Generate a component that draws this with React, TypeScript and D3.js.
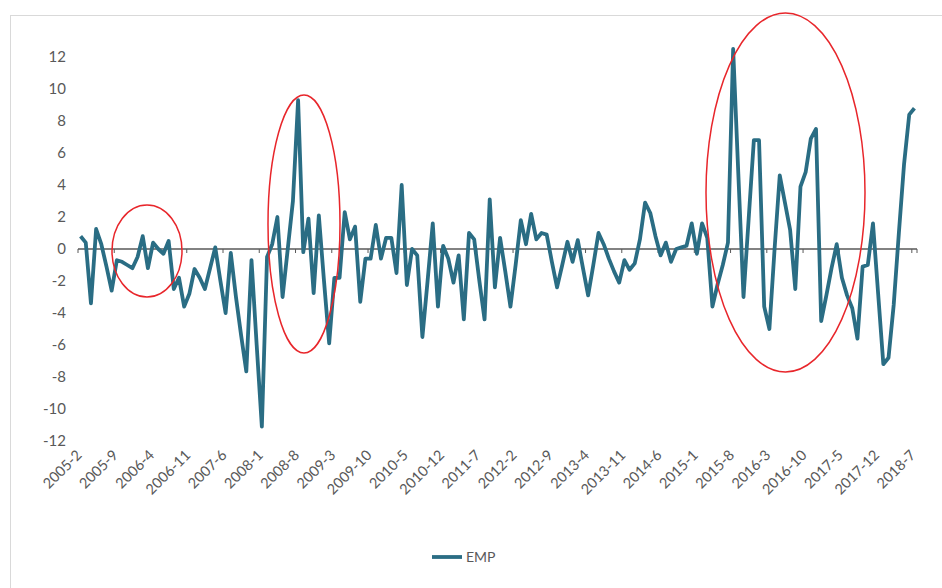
import React from "react";
import * as d3 from "d3";

const startYear = 2005;
const startMonth = 2;
const empValues: number[] = [
  0.8, 0.4, -3.4, 1.25, 0.3, -1.1, -2.6, -0.7, -0.8, -1.0,
  -1.2, -0.5, 0.8, -1.2, 0.4, 0.0, -0.3, 0.5, -2.5, -1.8,
  -3.6, -2.8, -1.25, -1.8, -2.5, -1.2, 0.1, -2.0, -4.0, -0.25,
  -3.0, -5.4, -7.65, -0.7, -6.0, -11.1, -0.5, 0.3, 2.0, -3.0,
  0.0, 3.0, 9.3, -0.2, 1.9, -2.75, 2.1, -2.0, -5.9, -1.8,
  -1.8, 2.3, 0.6, 1.4, -3.3, -0.6, -0.6, 1.5, -0.6, 0.7,
  0.7, -1.5, 4.0, -2.25, 0.0, -0.4, -5.5, -2.0, 1.6, -3.6,
  0.2, -0.6, -2.1, -0.4, -4.4, 1.0, 0.6, -2.0, -4.4, 3.1,
  -2.4, 0.7, -1.4, -3.6, -1.0, 1.8, 0.3, 2.2, 0.6, 1.0,
  0.9, -0.8, -2.4, -1.0, 0.45, -0.8, 0.55, -1.2, -2.9, -1.0,
  1.0, 0.3, -0.6, -1.4, -2.1, -0.7, -1.3, -0.9, 0.6, 2.9,
  2.25, 0.8, -0.4, 0.4, -0.8, 0.0, 0.1, 0.2, 1.6, -0.3,
  1.6, 0.7, -3.6, -2.2, -1.0, 0.4, 12.5, 4.7, -3.0, 1.9,
  6.8, 6.8, -3.6, -5.0, 0.0, 4.6, 2.9, 1.2, -2.5, 3.9,
  4.8, 6.9, 7.5, -4.5, -2.9, -1.2, 0.3, -1.8, -2.9, -3.7,
  -5.6, -1.1, -1.0, 1.6, -2.8, -7.2, -6.8, -3.5, 1.0, 5.3,
  8.4, 8.8,
];
const categories: string[] = empValues.map((_, i) => {
  const m = startMonth - 1 + i;
  return `${startYear + Math.floor(m / 12)}-${(m % 12) + 1}`;
});
const yTicks: number[] = [12, 10, 8, 6, 4, 2, 0, -2, -4, -6, -8, -10, -12];
const labelInterval = 7;
const seriesName = "EMP";

export default function App() {
  const W = 942, H = 588;
  const x = d3.scaleBand<number>().domain(empValues.map((_, i) => i)).range([78, 917]).padding(0);
  const bw = x.bandwidth();
  const cx = (i: number) => (x(i) as number) + bw / 2;
  const y = d3.scaleLinear().domain([-12, 12]).range([441, 57]);
  const line = d3.line<number>().x((_, i) => cx(i)).y((d) => y(d));
  const labelIdx = categories.map((_, i) => i).filter((i) => i % labelInterval === 0);
  const font = "Lato, 'Open Sans', sans-serif";
  const textColor = "#595959";
  const y0 = y(0);
  return (
    <svg width={W} height={H} style={{ position: "absolute", left: 0, top: 0, background: "#fff" }}>
      <rect x={10.5} y={15.5} width={940} height={590} fill="#fff" stroke="#d9d9d9" strokeWidth={1} />
      {yTicks.map((t) => (
        <text key={t} x={66} y={y(t)} dy="0.35em" textAnchor="end" fontSize={15} fill={textColor} fontFamily={font}>
          {t}
        </text>
      ))}
      <line x1={78} x2={917} y1={y0} y2={y0} stroke="#595959" strokeWidth={1.5} />
      {labelIdx.map((i) => (
        <line key={"t" + i} x1={x(i) as number} x2={x(i) as number} y1={y0} y2={y0 + 4} stroke="#595959" strokeWidth={1} />
      ))}
      <line x1={917} x2={917} y1={y0} y2={y0 + 4} stroke="#595959" strokeWidth={1} />
      {labelIdx.map((i) => (
        <text
          key={"l" + i}
          transform={`translate(${cx(i) + 2},${456}) rotate(-45)`}
          textAnchor="end"
          fontSize={14.5}
          fill={textColor}
          fontFamily={font}
        >
          {categories[i]}
        </text>
      ))}
      <path d={line(empValues) || ""} fill="none" stroke="#2a6d84" strokeWidth={3.8} strokeLinejoin="round" />
      <ellipse cx={147} cy={251} rx={35} ry={46} fill="none" stroke="#e8262b" strokeWidth={1.5} />
      <ellipse cx={304} cy={224} rx={36} ry={129} fill="none" stroke="#e8262b" strokeWidth={1.5} />
      <ellipse cx={785.5} cy={192.5} rx={79.5} ry={179.5} fill="none" stroke="#e8262b" strokeWidth={1.5} />
      <line x1={432} x2={462} y1={557} y2={557} stroke="#2a6d84" strokeWidth={3.8} />
      <text x={466} y={557} dy="0.35em" fontSize={14} fill={textColor} fontFamily={font}>
        {seriesName}
      </text>
    </svg>
  );
}
